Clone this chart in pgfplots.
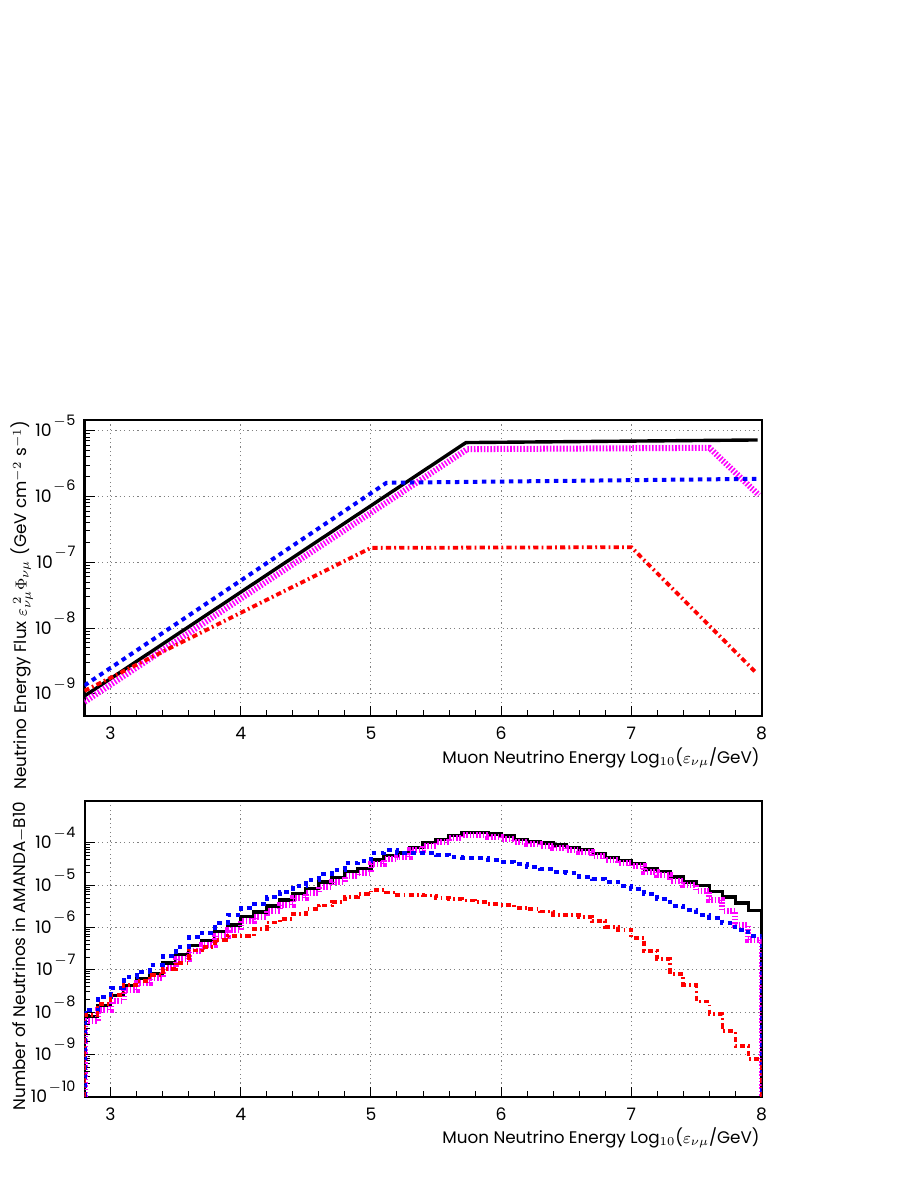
\documentclass[border=0pt]{standalone}
\usepackage{fontspec}
\setmainfont{Poppins}
\usepackage{pgfplots}
\pgfplotsset{compat=1.18}
\definecolor{rblue}{RGB}{0,0,255}
\definecolor{rred}{RGB}{255,0,0}
\definecolor{rmag}{RGB}{255,0,255}
\newcommand{\lbl}{\fontsize{8.4}{10}\selectfont}
\newcommand{\tl}{\fontsize{8.6}{10}\selectfont}
\newcommand{\ex}[1]{10\kern0.8pt\raisebox{5.8pt}{\fontsize{7.2}{8}\selectfont$-$\kern0.3pt#1}}
\pgfplotsset{
  rootax/.style={
    scale only axis, width=338.5pt, height=148pt,
    anchor=south west,
    xmin=2.8, xmax=8,
    tick pos=left, tick align=inside,
    xtick={3,4,5,6,7,8}, minor x tick num=4,
    major tick length=5pt, minor tick length=2.8pt,
    axis line style={line width=1pt},
    grid=major,
    major grid style={gray, line width=0.5pt, dash pattern=on 0.6pt off 1.6pt},
    tick style={black, line width=0.5pt},
    /pgf/number format/assume math mode=true,
    xticklabel style={font=\tl, yshift=-2pt},
    yticklabel style={font=\tl, anchor=base east, yshift=-3pt, xshift=-1pt},
    log number format basis/.code 2 args={\pgfmathparse{int(round(-(##2)))}\ex{\pgfmathresult}},
    yticklabel={\pgfmathparse{int(round(-\tick/ln(10)))}\ex{\pgfmathresult}},
  },
  bk/.style={black, line width=1.7pt},
  mg/.style={rmag, line width=3pt, dash pattern=on 0.8pt off 0.85pt},
  bl/.style={rblue, line width=2pt, dash pattern=on 2.3pt off 2.2pt},
  rd/.style={rred, line width=1.9pt, dash pattern=on 2.6pt off 1.6pt on 0.9pt off 1.6pt},
}
\begin{document}
\begin{tikzpicture}
\path (0,0) rectangle (456.5pt,591pt);
% ---------------- top panel ----------------
\begin{axis}[ymode=log, rootax, at={(42.25pt,233pt)},
  ymin=4.63e-10, ymax=1.456e-5,
  ytick={1e-9,1e-8,1e-7,1e-6,1e-5},
]
\addplot[bk] coordinates {(2.8,9.33e-10) (5.73,6.61e-6) (7.97,7.24e-6)};
\addplot[mg] coordinates {(2.8,7.59e-10) (5.74,5.25e-6) (7.6,5.5e-6) (7.98,1.05e-6)};
\addplot[bl] coordinates {(2.8,1.35e-9) (5.12,1.62e-6) (7.98,1.86e-6)};
\addplot[rd] coordinates {(2.8,1.12e-9) (5.0,1.66e-7) (7.0,1.70e-7) (7.95,2.19e-9)};
\end{axis}
% ---------------- bottom panel ----------------
\begin{axis}[ymode=log, rootax, at={(42.25pt,42.65pt)},
  ymin=1e-10, ymax=1e-3,
  ytick={1e-10,1e-9,1e-8,1e-7,1e-6,1e-5,1e-4},
]
\addplot[bk, const plot] coordinates {
(2.8,1e-10) (2.8,7.94e-9) (2.9,1.445e-8) (3.0,2.455e-8) (3.1,4.27e-8) (3.2,6.17e-8) (3.3,8.32e-8)
(3.4,1.445e-7) (3.5,2.29e-7) (3.6,3.72e-7) (3.7,4.90e-7) (3.8,8.13e-7) (3.9,1.15e-6)
(4.0,1.82e-6) (4.1,2.34e-6) (4.2,3.24e-6) (4.3,4.47e-6) (4.4,6.46e-6) (4.5,8.51e-6)
(4.6,1.20e-5) (4.7,1.51e-5) (4.8,2.09e-5) (4.9,2.51e-5) (5.0,3.98e-5) (5.1,5.01e-5)
(5.2,5.75e-5) (5.3,7.94e-5) (5.4,1.02e-4) (5.5,1.20e-4) (5.6,1.51e-4) (5.7,1.78e-4)
(5.8,1.78e-4) (5.9,1.62e-4) (6.0,1.45e-4) (6.1,1.20e-4) (6.2,1.10e-4) (6.3,1.00e-4)
(6.4,8.91e-5) (6.5,7.94e-5) (6.6,7.08e-5) (6.7,5.62e-5) (6.8,4.57e-5) (6.9,3.80e-5)
(7.0,3.31e-5) (7.1,2.40e-5) (7.2,2.09e-5) (7.3,1.58e-5) (7.4,1.20e-5) (7.5,9.77e-6)
(7.6,7.08e-6) (7.7,5.25e-6) (7.8,3.80e-6) (7.9,2.51e-6) (8.0,2.51e-6) (8.0,1e-10)};
\addplot[mg, const plot] coordinates {
(2.8,1e-10) (2.8,6.03e-9) (2.9,1.12e-8) (3.0,1.86e-8) (3.1,3.31e-8) (3.2,4.79e-8) (3.3,6.46e-8)
(3.4,1.10e-7) (3.5,1.78e-7) (3.6,2.82e-7) (3.7,3.80e-7) (3.8,6.31e-7) (3.9,8.91e-7)
(4.0,1.41e-6) (4.1,1.82e-6) (4.2,2.51e-6) (4.3,3.47e-6) (4.4,5.01e-6) (4.5,6.61e-6)
(4.6,9.33e-6) (4.7,1.20e-5) (4.8,1.66e-5) (4.9,2.00e-5) (5.0,3.16e-5) (5.1,4.17e-5)
(5.2,4.79e-5) (5.3,6.76e-5) (5.4,8.71e-5) (5.5,1.05e-4) (5.6,1.32e-4) (5.7,1.55e-4)
(5.8,1.55e-4) (5.9,1.41e-4) (6.0,1.26e-4) (6.1,1.05e-4) (6.2,9.55e-5) (6.3,8.71e-5)
(6.4,7.76e-5) (6.5,6.92e-5) (6.6,6.17e-5) (6.7,4.90e-5) (6.8,3.98e-5) (6.9,3.31e-5)
(7.0,2.82e-5) (7.1,2.04e-5) (7.2,1.74e-5) (7.3,1.29e-5) (7.4,1.00e-5) (7.5,7.41e-6)
(7.6,4.47e-6) (7.7,2.51e-6) (7.8,1.12e-6) (7.9,5.01e-7) (8.0,5.01e-7) (8.0,1e-10)};
\addplot[bl, const plot] coordinates {
(2.8,1e-10) (2.8,1.15e-8) (2.9,2.34e-8) (3.0,3.80e-8) (3.1,6.76e-8) (3.2,9.12e-8) (3.3,1.32e-7)
(3.4,2.09e-7) (3.5,3.47e-7) (3.6,5.89e-7) (3.7,7.59e-7) (3.8,1.26e-6) (3.9,2.00e-6)
(4.0,2.88e-6) (4.1,3.55e-6) (4.2,5.25e-6) (4.3,7.08e-6) (4.4,9.77e-6) (4.5,1.35e-5)
(4.6,1.82e-5) (4.7,2.29e-5) (4.8,3.39e-5) (4.9,3.80e-5) (5.0,5.89e-5) (5.1,6.76e-5)
(5.2,5.89e-5) (5.3,5.89e-5) (5.4,5.89e-5) (5.5,5.13e-5) (5.6,4.57e-5) (5.7,4.37e-5)
(5.8,4.37e-5) (5.9,3.98e-5) (6.0,3.55e-5) (6.1,3.16e-5) (6.2,2.69e-5) (6.3,2.40e-5)
(6.4,2.09e-5) (6.5,2.00e-5) (6.6,1.58e-5) (6.7,1.41e-5) (6.8,1.20e-5) (6.9,9.77e-6)
(7.0,8.13e-6) (7.1,6.17e-6) (7.2,4.68e-6) (7.3,3.24e-6) (7.4,2.63e-6) (7.5,2.00e-6)
(7.6,1.66e-6) (7.7,1.26e-6) (7.8,8.91e-7) (7.9,6.31e-7) (8.0,6.31e-7) (8.0,1e-10)};
\addplot[rd, const plot] coordinates {
(2.8,1e-10) (2.8,8.71e-9) (2.9,1.58e-8) (3.0,2.57e-8) (3.1,4.47e-8) (3.2,5.37e-8) (3.3,7.59e-8)
(3.4,1.05e-7) (3.5,1.48e-7) (3.6,2.88e-7) (3.7,3.47e-7) (3.8,5.13e-7) (3.9,6.31e-7)
(4.0,6.31e-7) (4.1,9.33e-7) (4.2,1.32e-6) (4.3,1.62e-6) (4.4,2.09e-6) (4.5,2.69e-6)
(4.6,3.31e-6) (4.7,4.07e-6) (4.8,5.25e-6) (4.9,6.17e-6) (5.0,7.76e-6) (5.1,6.76e-6)
(5.2,5.89e-6) (5.3,5.89e-6) (5.4,5.75e-6) (5.5,4.90e-6) (5.6,4.68e-6) (5.7,4.37e-6)
(5.8,3.98e-6) (5.9,3.55e-6) (6.0,3.47e-6) (6.1,2.95e-6) (6.2,2.69e-6) (6.3,2.40e-6)
(6.4,2.00e-6) (6.5,1.95e-6) (6.6,1.78e-6) (6.7,1.41e-6) (6.8,1.05e-6) (6.9,8.91e-7)
(7.0,5.62e-7) (7.1,2.82e-7) (7.2,1.78e-7) (7.3,7.94e-8) (7.4,4.47e-8) (7.5,1.78e-8)
(7.6,8.91e-9) (7.7,3.55e-9) (7.8,1.58e-9) (7.9,7.94e-10) (8.0,7.94e-10) (8.0,1e-10)};
\end{axis}
% ---------------- labels ----------------
\node[anchor=base east, inner sep=0pt, font=\lbl] at (380pt,209.35pt)
  {Muon Neutrino Energy Log$_{10}$($\varepsilon_{\nu\mu}$/GeV)};
\node[anchor=base east, inner sep=0pt, font=\lbl] at (380pt,19.35pt)
  {Muon Neutrino Energy Log$_{10}$($\varepsilon_{\nu\mu}$/GeV)};
\node[rotate=90, anchor=base east, inner sep=0pt, font=\lbl] at (13.3pt,381pt)
  {Neutrino Energy Flux $\varepsilon_{\nu\mu}^{\;2}\Phi_{\nu\mu}$ (GeV cm$^{-2}$ s$^{-1}$)};
\node[rotate=90, anchor=base east, inner sep=0pt, font=\lbl] at (12.8pt,190.2pt)
  {Number of Neutrinos in AMANDA$-$B10};
\end{tikzpicture}
\end{document}
